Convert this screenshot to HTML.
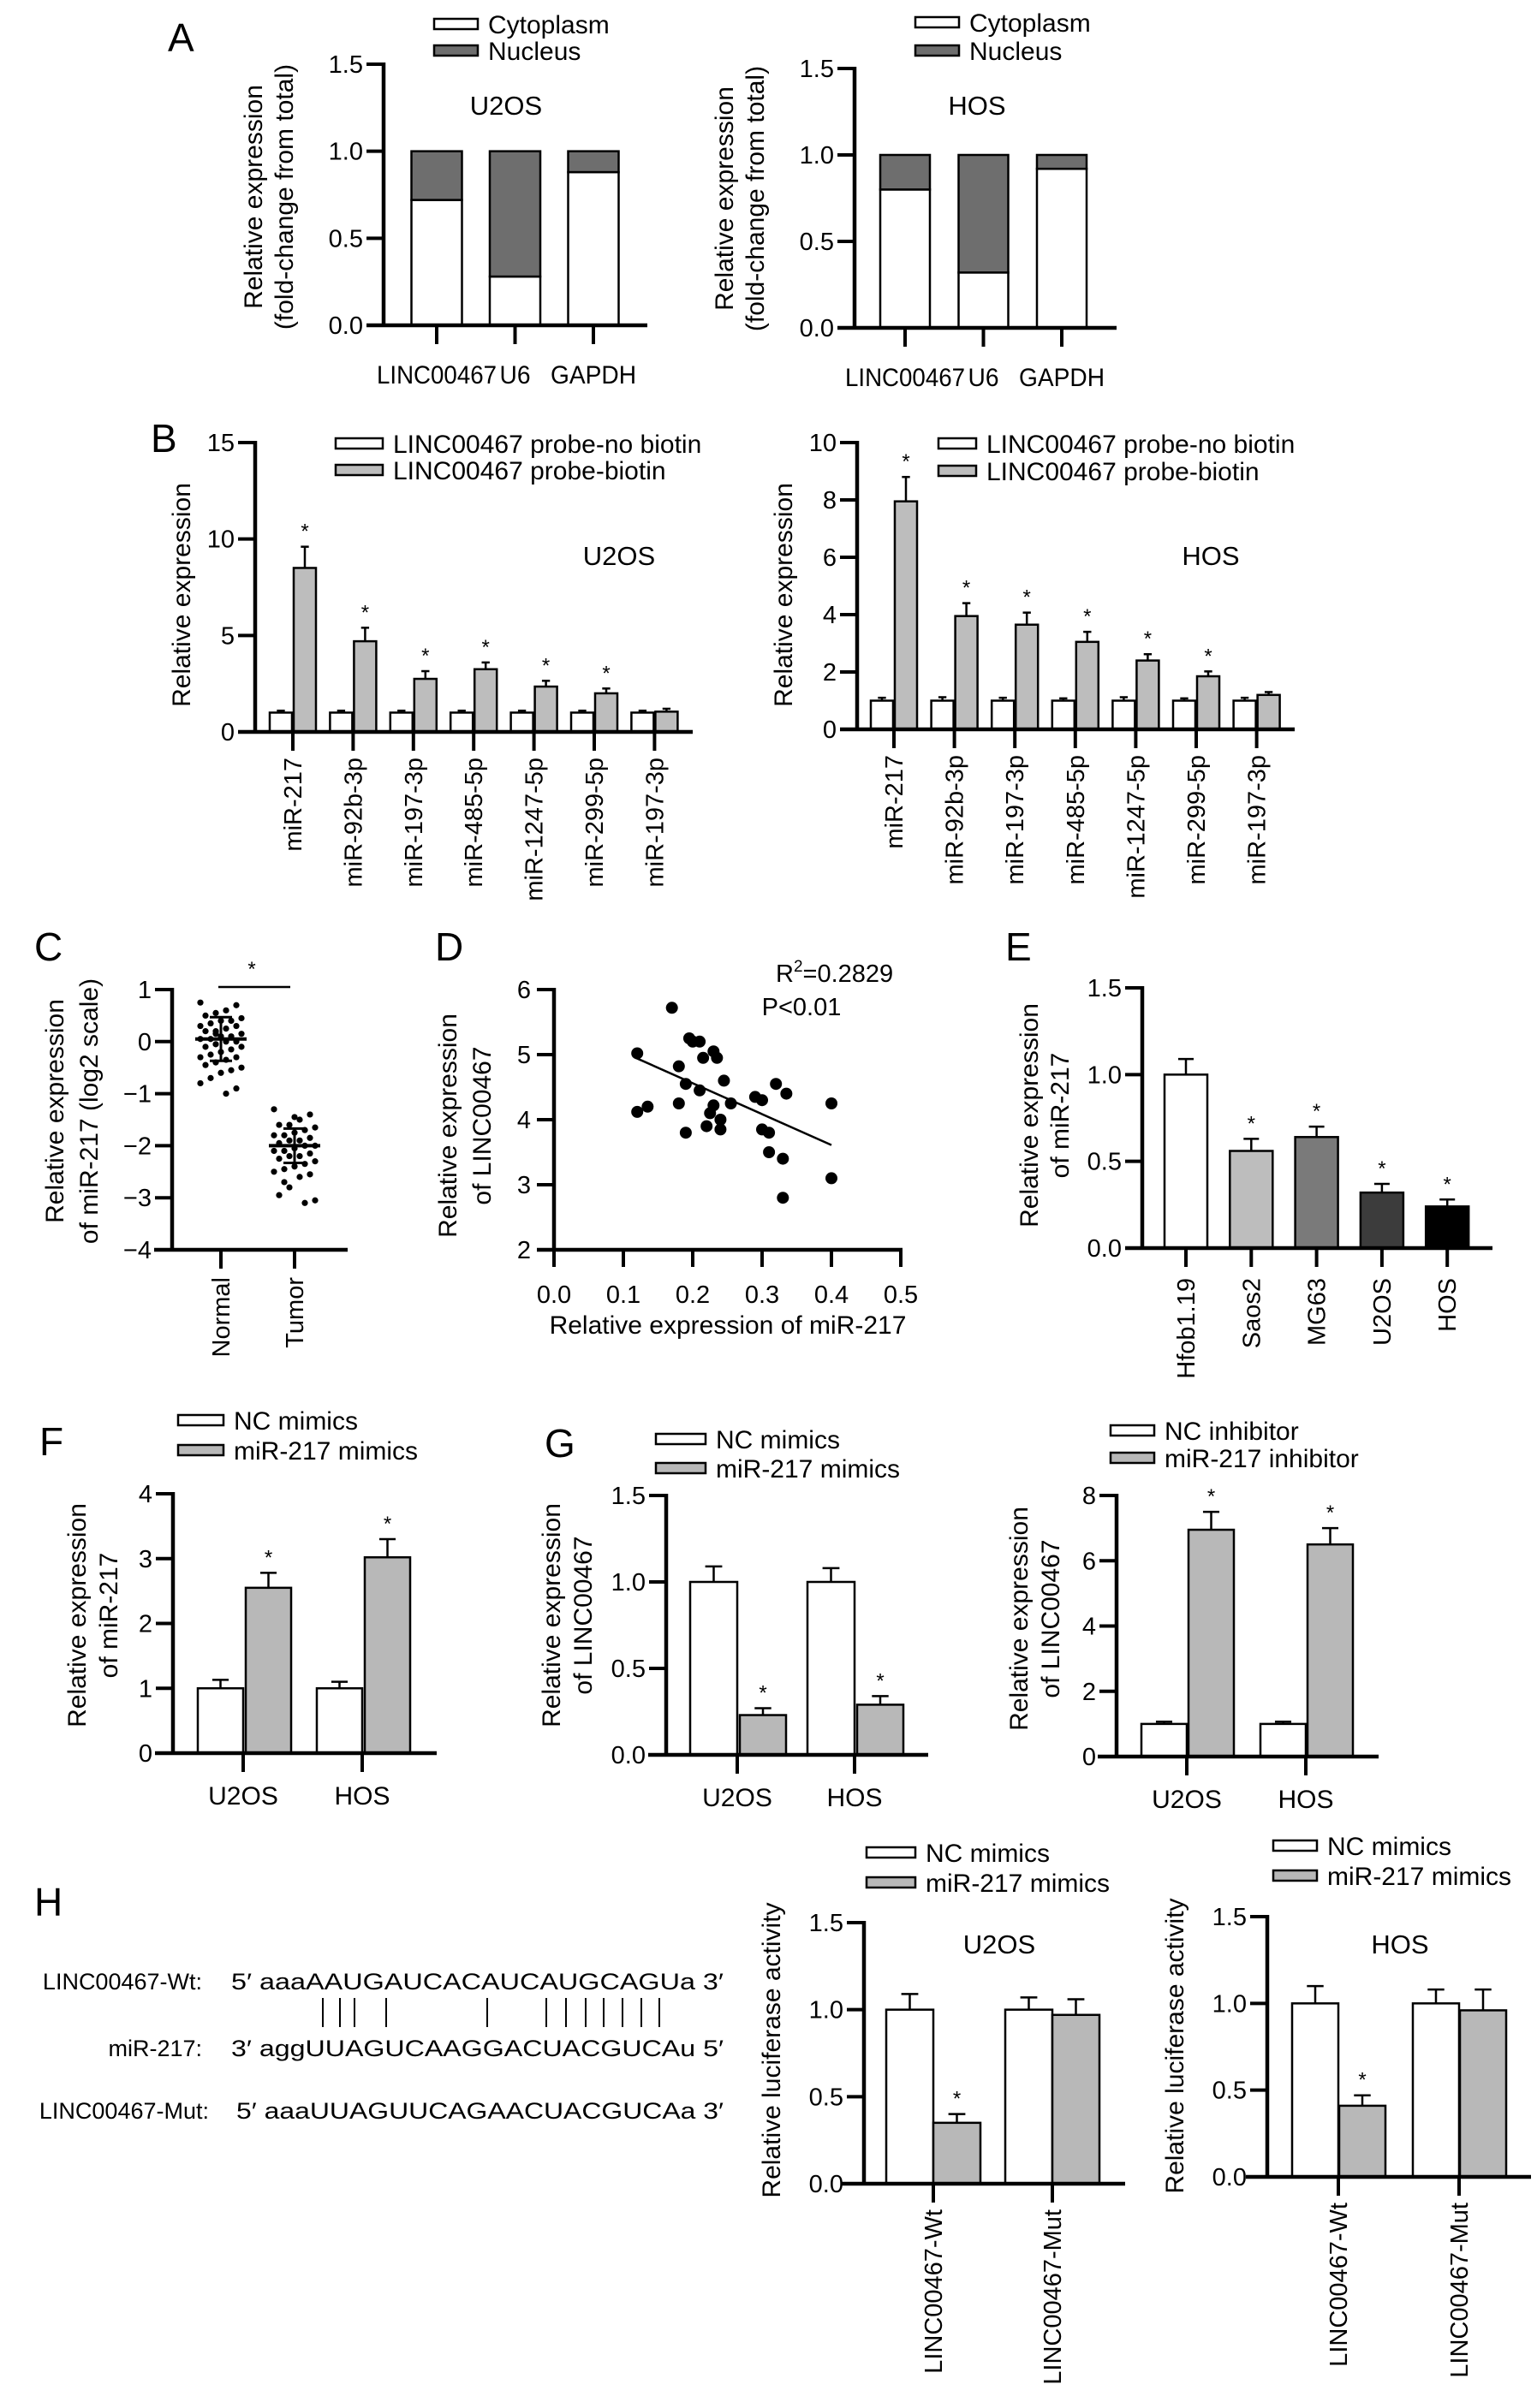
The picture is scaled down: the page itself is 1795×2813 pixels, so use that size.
<!DOCTYPE html>
<html><head><meta charset="utf-8"><style>
html,body{margin:0;padding:0;background:#fff}
svg{display:block;font-family:"Liberation Sans",Arial,sans-serif}
</style></head><body>
<svg id="fig" width="1795" height="2813" viewBox="0 0 1795 2813" xmlns="http://www.w3.org/2000/svg">
<g font-size="46" fill="#000">
<text x="196" y="60">A</text>
<text x="176" y="528">B</text>
<text x="40" y="1122">C</text>
<text x="508" y="1122">D</text>
<text x="1174" y="1122">E</text>
<text x="46" y="1700">F</text>
<text x="636" y="1702">G</text>
<text x="40" y="2238">H</text>
</g>
<g font-size="27">
<text x="236" y="2324" text-anchor="end">LINC00467-Wt:</text>
<text x="270" y="2324" textLength="575" lengthAdjust="spacingAndGlyphs">5′ aaaAAUGAUCACAUCAUGCAGUa 3′</text>
<text x="236" y="2402" text-anchor="end">miR-217:</text>
<text x="270" y="2402" textLength="575" lengthAdjust="spacingAndGlyphs">3′ aggUUAGUCAAGGACUACGUCAu 5′</text>
<text x="244" y="2475" text-anchor="end">LINC00467-Mut:</text>
<text x="276" y="2475" textLength="569" lengthAdjust="spacingAndGlyphs">5′ aaaUUAGUUCAGAACUACGUCAa 3′</text>
<g id="pairs" stroke="#000" stroke-width="2"></g>
</g>
</svg>
<script>
// ---------- data ----------
const aCats = ['LINC00467','U6','GAPDH'];
const aU2osCyto = [0.72, 0.28, 0.88];
const aHosCyto = [0.80, 0.32, 0.92];
const aTicks = ['0.0','0.5','1.0','1.5'];

const bCats = ['miR-217','miR-92b-3p','miR-197-3p','miR-485-5p','miR-1247-5p','miR-299-5p','miR-197-3p'];
const bU2osCtrl = [1.0,1.0,1.0,1.0,1.0,1.0,1.0];
const bU2osCtrlErr = [0.1,0.1,0.1,0.1,0.1,0.1,0.1];
const bU2osBio = [8.5,4.7,2.75,3.25,2.35,2.0,1.05];
const bU2osBioErr = [1.1,0.7,0.4,0.35,0.3,0.25,0.15];
const bU2osTicks = [0,5,10,15];
const bHosCtrl = [1.0,1.0,1.0,1.0,1.0,1.0,1.0];
const bHosCtrlErr = [0.1,0.12,0.1,0.08,0.12,0.08,0.1];
const bHosBio = [7.95,3.95,3.65,3.05,2.4,1.85,1.2];
const bHosBioErr = [0.85,0.45,0.42,0.35,0.22,0.17,0.1];
const bHosTicks = [0,2,4,6,8,10];

const cCats = ['Normal','Tumor'];
const cNormal = [0.75,0.7,0.6,0.55,0.5,0.45,0.4,0.4,0.35,0.3,0.3,0.25,0.2,0.2,0.15,0.1,0.1,0.05,0.05,0,0,-0.05,-0.1,-0.1,-0.15,-0.2,-0.25,-0.3,-0.3,-0.35,-0.4,-0.45,-0.5,-0.55,-0.6,-0.7,-0.8,-0.9,-1.0,0.15];
const cTumor = [-1.3,-1.4,-1.5,-1.6,-1.6,-1.65,-1.7,-1.75,-1.8,-1.8,-1.85,-1.9,-1.9,-1.95,-2.0,-2.0,-2.05,-2.1,-2.1,-2.15,-2.2,-2.2,-2.25,-2.3,-2.35,-2.4,-2.45,-2.5,-2.55,-2.6,-2.8,-2.95,-3.05,-3.1,-1.45,-2.7];
const cMean = [0.05,-2.0];
const cSD = [0.42,0.33];
const cTicks = [-4,-3,-2,-1,0,1];

const dX = [0.12,0.12,0.135,0.17,0.18,0.18,0.19,0.19,0.195,0.2,0.21,0.21,0.215,0.22,0.225,0.23,0.23,0.235,0.24,0.24,0.245,0.255,0.29,0.3,0.3,0.31,0.31,0.32,0.33,0.335,0.33,0.4,0.4];
const dY = [5.02,4.12,4.2,5.72,4.82,4.25,4.55,3.8,5.25,5.2,4.45,5.2,4.95,3.9,4.1,4.22,5.05,4.95,3.85,4.0,4.6,4.25,4.35,4.3,3.85,3.8,3.5,4.55,3.4,4.4,2.8,4.25,3.1];
const dFit = [[0.118,4.95],[0.40,3.61]];
const dXTicks = ['0.0','0.1','0.2','0.3','0.4','0.5'];
const dYTicks = [2,3,4,5,6];

const eCats = ['Hfob1.19','Saos2','MG63','U2OS','HOS'];
const eVals = [1.0,0.56,0.64,0.32,0.24];
const eErr = [0.09,0.07,0.06,0.05,0.04];
const eSig = [false,true,true,true,true];
const eTicks = ['0.0','0.5','1.0','1.5'];

const fCats = ['U2OS','HOS'];
const fNC = [1.0,1.0];
const fNCErr = [0.13,0.1];
const fMim = [2.55,3.02];
const fMimErr = [0.23,0.28];
const fTicks = [0,1,2,3,4];

const gCats = ['U2OS','HOS'];
const gNC = [1.0,1.0];
const gNCErr = [0.09,0.08];
const gMim = [0.23,0.29];
const gMimErr = [0.04,0.05];
const gTicks = ['0.0','0.5','1.0','1.5'];
const g2NC = [1.0,1.0];
const g2NCErr = [0.07,0.07];
const g2Inh = [6.95,6.5];
const g2InhErr = [0.55,0.5];
const g2Ticks = [0,2,4,6,8];

const hCats = ['LINC00467-Wt','LINC00467-Mut'];
const hU2osNC = [1.0,1.0];
const hU2osNCErr = [0.09,0.07];
const hU2osMim = [0.35,0.97];
const hU2osMimErr = [0.05,0.09];
const hHosNC = [1.0,1.0];
const hHosNCErr = [0.1,0.08];
const hHosMim = [0.41,0.96];
const hHosMimErr = [0.06,0.12];
const hTicks = ['0.0','0.5','1.0','1.5'];

// ---------- helpers ----------
const NS='http://www.w3.org/2000/svg';
const svg=document.getElementById('fig');
function el(tag, name, attrs, parent){
  const e=document.createElementNS(NS,tag);
  
  
  for(const k in attrs) e.setAttribute(k, attrs[k]);
  (parent||svg).appendChild(e);
  return e;
}
function txt(name, s, x, y, size, anchor, parent, rot){
  const t=el('text', name, {x:x,y:y,'font-size':size,'text-anchor':anchor||'start'}, parent);
  if(rot) t.setAttribute('transform','rotate(-90 '+x+' '+y+')');
  t.textContent=s; return t;
}
function line(name,x1,y1,x2,y2,w,parent){return el('line',name,{x1:x1,y1:y1,x2:x2,y2:y2,stroke:'#000','stroke-width':w||3},parent);}
function mkScale(v0,v1,p0,p1){return v=>p0+(v-v0)/(v1-v0)*(p1-p0);}

function yAxis(name, ax, y, ticks, x0, x1, fs){
  const g=el('g', name);
  line('y-axis-line',ax,y(+ticks[ticks.length-1])-2,ax,y(+ticks[0])+2,4.5,g);
  line('x-axis-line',x0,y(+ticks[0]),x1,y(+ticks[0]),4.5,g);
  ticks.forEach(t=>{
    const py=y(+t);
    line('y-tick',ax-20,py,ax,py,4,g);
    txt('y-tick-label',String(t).replace('-','−'),ax-24,py+10,fs||29,'end',g);
  });
  return g;
}
function yTitle(name, lines, x, yc, gap){
  lines.forEach((s,i)=>txt(name,s,x+i*gap,yc,30,'middle',null,true));
}
function legend(name, items, bx, tx, ys, fs){
  const g=el('g',name);
  items.forEach((it,i)=>{
    el('rect','legend-swatch',{x:bx,y:ys[i]-6,width:tx-bx-12,height:12,fill:it[1],stroke:'#000','stroke-width':2.5},g);
    txt('legend-entry',it[0],tx,ys[i]+11,fs||30,'start',g);
  });
}
function bar(name,x0,x1,y,v,base,fill,err,parent){
  const top=y(v), b=y(base);
  el('rect',name,{x:x0,y:top,width:x1-x0,height:b-top,fill:fill,stroke:'#000','stroke-width':2.5},parent);
  if(err){
    const ey=y(v+err), cx=(x0+x1)/2, hw=(x1-x0)*0.18;
    line('error-bar',cx,top,cx,ey,2.5,parent);
    line('error-cap',cx-hw,ey,cx+hw,ey,2.5,parent);
  }
}
function star(x,y,parent){txt('significance-star','*',x,y,24,'middle',parent);}
function xTicks(name, xs, yb, cats, mode, ytext, fs, lens){
  const g=el('g',name);
  xs.forEach((x,i)=>{
    line('x-tick',x,yb,x,yb+22,4,g);
    let t;
    if(mode==='rot') t=txt('x-tick-label',cats[i],x+10,ytext,fs||29,'end',g,true);
    else t=txt('x-tick-label',cats[i],x,ytext,fs||30,'middle',g);
    if(lens && lens[i]){t.setAttribute('textLength',lens[i]);t.setAttribute('lengthAdjust','spacingAndGlyphs');}
  });
}

// ---------- Panel A ----------
function panelA(name, cyto, ax, x0, x1, yb, yt, c0, step, w, title, tx, ty){
  const y=mkScale(0,1.5,yb,yt);
  const g=el('g',name);
  const xs=aCats.map((_,i)=>c0+i*step);
  xs.forEach((c,i)=>{
    bar('bar-cytoplasm-'+aCats[i].toLowerCase(),c-w/2,c+w/2,y,cyto[i],0,'#fff',0,g);
    bar('bar-nucleus-'+aCats[i].toLowerCase(),c-w/2,c+w/2,y,1.0,cyto[i],'#6e6e6e',0,g);
  });
  yAxis(name+'-axes',ax,y,aTicks,x0,x1);
  xTicks(name+'-xticks',xs,yb,aCats,'h',yb+68,30,[140,36,100]);
  txt('chart-title',title,tx,ty,31,'middle');
}
panelA('chart-a-u2os',aU2osCyto,448,428,756,380,75,510,91.5,59,'U2OS',591,134);
panelA('chart-a-hos',aHosCyto,998,978,1304,383,80,1057,91.5,58,'HOS',1141,134);
legend('legend-a-u2os',[['Cytoplasm','#fff'],['Nucleus','#6e6e6e']],507,570,[28,59]);
legend('legend-a-hos',[['Cytoplasm','#fff'],['Nucleus','#6e6e6e']],1069,1132,[26,59]);
yTitle('y-axis-title-a-u2os',['Relative expression','(fold-change from total)'],306,230,36);
yTitle('y-axis-title-a-hos',['Relative expression','(fold-change from total)'],856,232,36);

// ---------- Panel B ----------
function panelB(name, ctrl, ctrlE, bio, bioE, ticks, ax, x0, x1, yb, yt, t0, step){
  const y=mkScale(0,ticks[ticks.length-1],yb,yt);
  const g=el('g',name);
  const xs=bCats.map((_,i)=>t0+i*step);
  xs.forEach((t,i)=>{
    bar('bar-no-biotin',t-27,t-1,y,ctrl[i],0,'#fff',ctrlE[i],g);
    bar('bar-biotin',t+1,t+27,y,bio[i],0,'#bdbdbd',bioE[i],g);
    if(i<6) star(t+14,y(bio[i]+bioE[i])-10,g);
  });
  yAxis(name+'-axes',ax,y,ticks,x0,x1);
  xTicks(name+'-xticks',xs,yb,bCats,'rot',yb+30,29);
}
panelB('chart-b-u2os',bU2osCtrl,bU2osCtrlErr,bU2osBio,bU2osBioErr,bU2osTicks,298,278,809,855,517,342,70.4);
panelB('chart-b-hos',bHosCtrl,bHosCtrlErr,bHosBio,bHosBioErr,bHosTicks,1001,981,1512,852,517,1044,70.6);
legend('legend-b-u2os',[['LINC00467 probe-no biotin','#fff'],['LINC00467 probe-biotin','#bdbdbd']],392,459,[518,549]);
legend('legend-b-hos',[['LINC00467 probe-no biotin','#fff'],['LINC00467 probe-biotin','#bdbdbd']],1096,1152,[518,550]);
txt('chart-title','U2OS',723,660,31,'middle');
txt('chart-title','HOS',1414,660,31,'middle');
yTitle('y-axis-title-b-u2os',['Relative expression'],222,695,0);
yTitle('y-axis-title-b-hos',['Relative expression'],925,695,0);

// ---------- Panel C ----------
(function(){
  const y=mkScale(1,-4,1156,1460);
  const g=el('g','chart-c');
  const xs=[258,344];
  [cNormal,cTumor].forEach((arr,k)=>{
    arr.forEach((v,i)=>{
      const dx=((i*7)%9-4)*6;
      el('circle','point-'+cCats[k].toLowerCase(),{cx:xs[k]+dx,cy:y(v),r:3.6,fill:'#000'},g);
    });
    const m=y(cMean[k]), up=y(cMean[k]+cSD[k]), lo=y(cMean[k]-cSD[k]);
    line('mean-line',xs[k]-30,m,xs[k]+30,m,4,g);
    line('sd-line',xs[k],up,xs[k],lo,3,g);
    line('sd-cap',xs[k]-13,up,xs[k]+13,up,3,g);
    line('sd-cap',xs[k]-13,lo,xs[k]+13,lo,3,g);
  });
  yAxis('chart-c-axes',201,y,cTicks,180,406);
  xTicks('chart-c-xticks',xs,1460,cCats,'rot',1492,29);
  line('significance-line',255,1153,339,1153,2.5,g);
  txt('significance-star','*',294,1140,24,'middle',g);
})();
yTitle('y-axis-title-c',['Relative expression','of miR-217 (log2 scale)'],74,1298,40);

// ---------- Panel D ----------
(function(){
  const x=mkScale(0,0.5,647,1052), y=mkScale(2,6,1460,1156);
  const g=el('g','chart-d');
  dX.forEach((v,i)=>el('circle','scatter-point',{cx:x(v),cy:y(dY[i]),r:7,fill:'#000'},g));
  line('regression-line',x(dFit[0][0]),y(dFit[0][1]),x(dFit[1][0]),y(dFit[1][1]),2.5,g);
  line('y-axis-line',647,1154,647,1462,4.5,g);
  line('x-axis-line',627,1460,1054,1460,4.5,g);
  dYTicks.forEach(t=>{line('y-tick',627,y(t),647,y(t),4,g);txt('y-tick-label',String(t),620,y(t)+10,29,'end',g);});
  dXTicks.forEach(t=>{line('x-tick',x(+t),1460,x(+t),1480,4,g);txt('x-tick-label',t,x(+t),1522,29,'middle',g);});
  const r=txt('r-squared','R',906,1147,29,'start',g);
  const sup=document.createElementNS(NS,'tspan');sup.setAttribute('font-size','19');sup.setAttribute('dy','-12');sup.textContent='2';r.appendChild(sup);
  const rest=document.createElementNS(NS,'tspan');rest.setAttribute('dy','12');rest.textContent='=0.2829';r.appendChild(rest);
  txt('p-value','P<0.01',936,1186,29,'middle',g);
  txt('x-axis-title','Relative expression of miR-217',850,1558,30,'middle',g);
})();
yTitle('y-axis-title-d',['Relative expression','of LINC00467'],533,1315,40);

// ---------- Panel E ----------
(function(){
  const y=mkScale(0,1.5,1458,1154);
  const g=el('g','chart-e');
  const fills=['#fff','#bdbdbd','#7a7a7a','#3c3c3c','#000'];
  const xs=eCats.map((_,i)=>1385+i*76.3);
  xs.forEach((c,i)=>{
    bar('bar-'+eCats[i].toLowerCase(),c-25,c+25,y,eVals[i],0,fills[i],eErr[i],g);
    if(eSig[i]) star(c,y(eVals[i]+eErr[i])-10,g);
  });
  yAxis('chart-e-axes',1334,y,eTicks,1314,1743);
  xTicks('chart-e-xticks',xs,1458,eCats,'rot',1493,29);
})();
yTitle('y-axis-title-e',['Relative expression','of miR-217'],1212,1303,36);

// ---------- Panels F/G/H (grouped 2-bar) ----------
function pair(name, cats, a, aE, b, bE, ticks, ax, x0, x1, yb, yt, xs, wA, gap, wB, fill, rot, sig){
  const y=mkScale(+ticks[0],+ticks[ticks.length-1],yb,yt);
  const g=el('g',name);
  xs.forEach((t,i)=>{
    bar('bar-control',t-wA,t,y,a[i],0,'#fff',aE[i],g);
    bar('bar-treatment',t+gap,t+gap+wB,y,b[i],0,fill,bE[i],g);
    if(sig[i]) star(t+gap+wB/2,y(b[i]+bE[i])-10,g);
  });
  yAxis(name+'-axes',ax,y,ticks,x0,x1);
  if(rot) xTicks(name+'-xticks',xs,yb,cats,'rot',yb+30,29);
  else xTicks(name+'-xticks',xs,yb,cats,'h',yb+60,30);
}
pair('chart-f',fCats,fNC,fNCErr,fMim,fMimErr,fTicks,202,181,510,2048,1745,[284,423],53,3,53,'#b8b8b8',false,[true,true]);
legend('legend-f',[['NC mimics','#fff'],['miR-217 mimics','#b8b8b8']],208,273,[1659,1694]);
yTitle('y-axis-title-f',['Relative expression','of miR-217'],100,1887,37);

pair('chart-g-mimics',gCats,gNC,gNCErr,gMim,gMimErr,gTicks,778,757,1084,2050,1747,[861,998],55,3,54,'#b8b8b8',false,[true,true]);
legend('legend-g-mimics',[['NC mimics','#fff'],['miR-217 mimics','#b8b8b8']],766,836,[1681,1715]);
yTitle('y-axis-title-g-mimics',['Relative expression','of LINC00467'],654,1887,37);

pair('chart-g-inhibitor',gCats,g2NC,g2NCErr,g2Inh,g2InhErr,g2Ticks,1304,1282,1610,2052,1747,[1386,1525],53,2,53,'#b8b8b8',false,[true,true]);
legend('legend-g-inhibitor',[['NC inhibitor','#fff'],['miR-217 inhibitor','#b8b8b8']],1297,1360,[1671,1703]);
yTitle('y-axis-title-g-inhibitor',['Relative expression','of LINC00467'],1200,1891,37);

pair('chart-h-u2os',hCats,hU2osNC,hU2osNCErr,hU2osMim,hU2osMimErr,hTicks,1009,983,1314,2551,2246,[1090,1229],55,0,55,'#b8b8b8',true,[true,false]);
legend('legend-h-u2os',[['NC mimics','#fff'],['miR-217 mimics','#b8b8b8']],1012,1081,[2164,2199]);
txt('chart-title','U2OS',1167,2282,31,'middle');
yTitle('y-axis-title-h-u2os',['Relative luciferase activity'],911,2395,0);

pair('chart-h-hos',hCats,hHosNC,hHosNCErr,hHosMim,hHosMimErr,hTicks,1480,1455,1788,2543,2239,[1563,1704],54,1,54,'#b8b8b8',true,[true,false]);
legend('legend-h-hos',[['NC mimics','#fff'],['miR-217 mimics','#b8b8b8']],1487,1550,[2156,2191]);
txt('chart-title','HOS',1635,2282,31,'middle');
yTitle('y-axis-title-h-hos',['Relative luciferase activity'],1382,2390,0);

// base-pair lines
const pg=document.getElementById('pairs');
[377,397,414,451,569,638,661,684,705,727,749,770].forEach(x=>{
  const l=document.createElementNS(NS,'line');
  
  
  l.setAttribute('x1',x);l.setAttribute('x2',x);l.setAttribute('y1',2334);l.setAttribute('y2',2368);
  pg.appendChild(l);
});
</script>
</body></html>
